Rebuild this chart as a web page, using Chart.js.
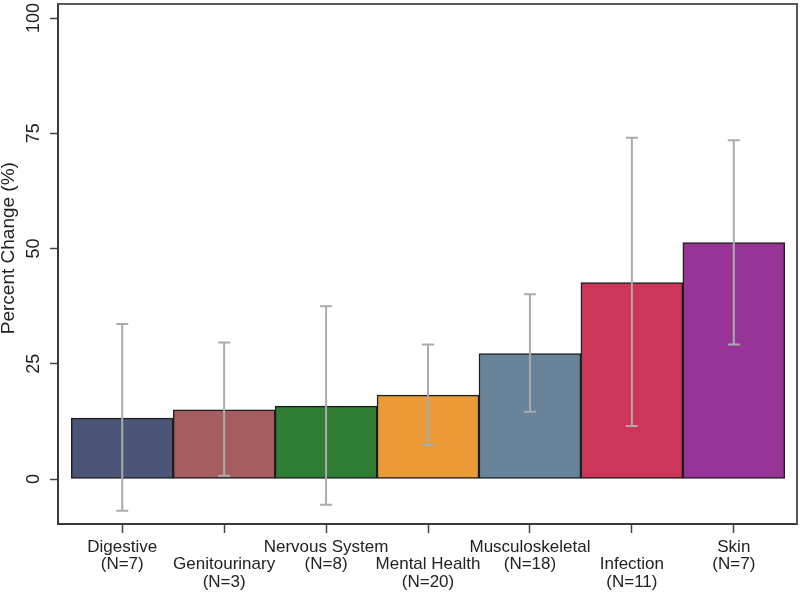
<!DOCTYPE html>
<html>
<head>
<meta charset="utf-8">
<script src="https://cdn.jsdelivr.net/npm/chart.js@4"></script>
<style>
  html, body { margin: 0; padding: 0; background: #ffffff; }
  #wrap { width: 800px; height: 592px; position: relative; }
</style>
</head>
<body>
<div id="wrap"><canvas id="c"></canvas></div>
<script>
// ---- data ----
const categories = ['Digestive', 'Genitourinary', 'Nervous System', 'Mental Health', 'Musculoskeletal', 'Infection', 'Skin'];
const counts = ['(N=7)', '(N=3)', '(N=8)', '(N=20)', '(N=18)', '(N=11)', '(N=7)'];
const percentChange = [13.2, 15.0, 15.8, 18.2, 27.2, 42.6, 51.3];
const ciLower = [-6.9, 0.7, -5.6, 7.4, 14.6, 11.5, 29.2];
const ciUpper = [33.6, 29.6, 37.5, 29.2, 40.1, 74.0, 73.5];
const barColors = ['#4a5577', '#a55d60', '#2e7d33', '#ea9a36', '#668399', '#cc3759', '#983497'];
const yTickValues = [0, 25, 50, 75, 100];

const errorBarPlugin = {
  id: 'errorBars',
  afterDatasetsDraw(chart) {
    const { ctx, scales: { x, y } } = chart;
    ctx.save();
    ctx.strokeStyle = '#ababab';
    ctx.lineWidth = 2;
    const cap = 6;
    for (let i = 0; i < categories.length; i++) {
      const px = x.getPixelForValue(i);
      const yl = y.getPixelForValue(ciLower[i]);
      const yh = y.getPixelForValue(ciUpper[i]);
      ctx.beginPath();
      ctx.moveTo(px, yl); ctx.lineTo(px, yh);
      ctx.moveTo(px - cap, yl); ctx.lineTo(px + cap, yl);
      ctx.moveTo(px - cap, yh); ctx.lineTo(px + cap, yh);
      ctx.stroke();
    }
    ctx.restore();
  }
};

const framePlugin = {
  id: 'frame',
  afterDraw(chart) {
    const { ctx, chartArea: a } = chart;
    ctx.save();
    ctx.strokeStyle = '#5a5a5a';
    ctx.lineWidth = 2;
    ctx.beginPath();
    ctx.moveTo(a.left, a.top); ctx.lineTo(a.right, a.top); ctx.lineTo(a.right, a.bottom);
    ctx.stroke();
    ctx.restore();
  }
};

new Chart(document.getElementById('c'), {
  type: 'bar',
  data: {
    datasets: [{
      data: percentChange.map((v, i) => ({ x: i, y: v })),
      backgroundColor: barColors,
      borderColor: '#1e1e1e',
      borderWidth: 1.5,
      borderSkipped: false,
      barPercentage: 1.0,
      categoryPercentage: 1.0
    }]
  },
  options: {
    responsive: true,
    maintainAspectRatio: false,
    animation: false,
    layout: { padding: { top: 4, right: 3, left: 0, bottom: 0 } },
    plugins: { legend: { display: false }, tooltip: { enabled: false } },
    scales: {
      x: {
        type: 'linear',
        offset: false,
        min: -0.63,
        max: 6.62,
        afterBuildTicks(scale) { scale.ticks = categories.map((c, i) => ({ value: i })); },
        afterFit(scale) { scale.height = 68; scale.paddingLeft = 0; scale.paddingRight = 0; },
        ticks: {
          autoSkip: false,
          maxRotation: 0,
          minRotation: 0,
          padding: 5,
          color: '#222222',
          font: { family: 'Liberation Sans, Arial, sans-serif', size: 17, lineHeight: 1.05 },
          callback(value) {
            const i = Math.round(value);
            return i % 2 === 0 ? [categories[i], counts[i]] : ['', categories[i], counts[i]];
          }
        },
        grid: { display: true, offset: false, drawOnChartArea: false, drawTicks: true, tickLength: 9, color: '#444444', tickWidth: 1.5 },
        border: { display: true, color: '#3a3a3a', width: 2 }
      },
      y: {
        min: -9.76,
        max: 103.04,
        afterBuildTicks(scale) { scale.ticks = yTickValues.map(v => ({ value: v })); },
        afterFit(scale) { scale.width = 58; scale.paddingTop = 0; scale.paddingBottom = 0; },
        ticks: {
          minRotation: 90,
          maxRotation: 90,
          crossAlign: 'center',
          padding: 1,
          color: '#222222',
          font: { family: 'Liberation Sans, Arial, sans-serif', size: 18 }
        },
        grid: { display: true, drawOnChartArea: false, drawTicks: true, tickLength: 8, color: '#444444', tickWidth: 1.5 },
        border: { display: true, color: '#3a3a3a', width: 2 },
        title: {
          display: true,
          text: '      Percent Change (%)',
          color: '#222222',
          padding: { top: 0, bottom: 0 },
          font: { family: 'Liberation Sans, Arial, sans-serif', size: 19, lineHeight: 0.9 }
        }
      }
    }
  },
  plugins: [errorBarPlugin, framePlugin]
});
</script>
</body>
</html>
